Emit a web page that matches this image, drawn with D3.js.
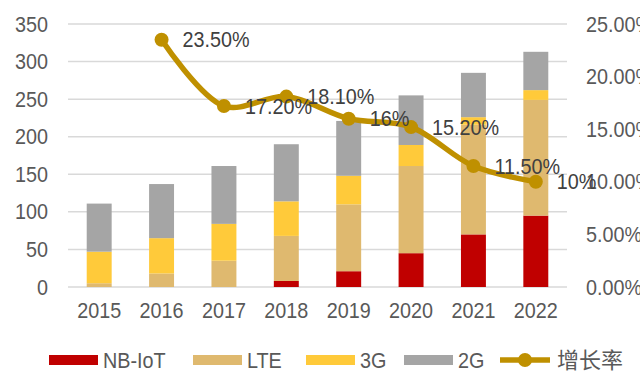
<!DOCTYPE html>
<html><head><meta charset="utf-8">
<script src="https://cdn.jsdelivr.net/npm/d3@7/dist/d3.min.js"></script>
<style>body{margin:0;background:#fff}svg{display:block}</style>
</head><body><svg id="c" width="640" height="378"></svg>
<script>
const years = ["2015","2016","2017","2018","2019","2020","2021","2022"];
const nbiot = [0, 0, 0, 8, 21, 45, 70, 95];
const lte   = [5, 18, 35, 60, 89, 116, 146, 154];
const g3    = [42, 47, 49, 46, 38, 28, 10, 13];
const g2    = [64, 72, 77, 76, 73, 66, 59, 51];
const growthYears = ["2016","2017","2018","2019","2020","2021","2022"];
const growth = [23.5, 17.2, 18.1, 16, 15.2, 11.5, 10];
const growthLabels = ["23.50%","17.20%","18.10%","16%","15.20%","11.50%","10%"];
const leftTicks = [0,50,100,150,200,250,300,350];
const rightTicks = [0,5,10,15,20,25];
const seriesNames = ["NB-IoT","LTE","3G","2G"];
const colors = ["#C00000","#DFB96F","#FFCA3A","#A5A5A5"];
const lineColor = "#BF9000";

const svg = d3.select("#c");
const font = "'Liberation Sans', Arial, sans-serif";
const FS = 22, SX = 0.9;
function squeeze(sel) {
  sel.each(function() {
    const t = d3.select(this);
    const tx = +(t.attr("x") || 0);
    t.attr("transform", `translate(${tx},0) scale(${SX},1) translate(${-tx},0)`);
  });
}
const x = d3.scaleBand().domain(years).range([68, 567]).paddingInner(0.6).paddingOuter(0.3);
const y = d3.scaleLinear().domain([0, 350]).range([287, 24]);
const y2 = d3.scaleLinear().domain([0, 25]).range([287, 24]);

// gridlines
svg.append("g").selectAll("line").data(leftTicks).join("line")
  .attr("x1", 68).attr("x2", 567)
  .attr("y1", d => y(d)).attr("y2", d => y(d))
  .attr("stroke", "#D9D9D9").attr("stroke-width", 1.5);

// left axis
const la = svg.append("g").attr("transform", "translate(68,0)")
  .call(d3.axisLeft(y).tickValues(leftTicks).tickSize(0).tickPadding(20).tickFormat(d3.format("d")));
la.select(".domain").remove();
la.selectAll("text").attr("font-family", font).attr("font-size", FS).attr("fill", "#595959").call(squeeze);

// right axis
const ra = svg.append("g").attr("transform", "translate(567,0)")
  .call(d3.axisRight(y2).tickValues(rightTicks).tickSize(0).tickPadding(19).tickFormat(d => d.toFixed(2) + "%"));
ra.select(".domain").remove();
ra.selectAll("text").attr("font-family", font).attr("font-size", FS).attr("fill", "#595959").call(squeeze);

// bottom axis
const ba = svg.append("g").attr("transform", "translate(0,287)")
  .call(d3.axisBottom(x).tickSize(0).tickPadding(15));
ba.select(".domain").remove();
ba.selectAll("text").attr("font-family", font).attr("font-size", FS).attr("fill", "#595959").call(squeeze);

// stacked bars
const table = years.map((yr, i) => ({year: yr, "NB-IoT": nbiot[i], "LTE": lte[i], "3G": g3[i], "2G": g2[i]}));
const stacked = d3.stack().keys(seriesNames)(table);
svg.append("g").selectAll("g").data(stacked).join("g")
  .attr("fill", (d, i) => colors[i])
  .selectAll("rect").data(d => d).join("rect")
  .attr("x", d => x(d.data.year)).attr("width", x.bandwidth())
  .attr("y", d => y(d[1])).attr("height", d => y(d[0]) - y(d[1]));

// line
const pts = growthYears.map((yr, i) => ({x: x(yr) + x.bandwidth() / 2, y: y2(growth[i]), label: growthLabels[i]}));
svg.append("path").datum(pts)
  .attr("d", d3.line().x(d => d.x).y(d => d.y).curve(d3.curveCatmullRom.alpha(0.5)))
  .attr("fill", "none").attr("stroke", lineColor).attr("stroke-width", 5.5).attr("stroke-linecap", "round");
svg.append("g").selectAll("circle").data(pts).join("circle")
  .attr("cx", d => d.x).attr("cy", d => d.y).attr("r", 7).attr("fill", lineColor);
svg.append("g").selectAll("text").data(pts).join("text")
  .attr("x", d => d.x + 21).attr("y", d => d.y).attr("dy", "0.35em")
  .attr("font-family", font).attr("font-size", FS).attr("fill", "#404040")
  .text(d => d.label).call(squeeze);

// legend
const legend = svg.append("g");
const legItems = [
  {name: "NB-IoT", color: colors[0], x: 49},
  {name: "LTE", color: colors[1], x: 193},
  {name: "3G", color: colors[2], x: 306},
  {name: "2G", color: colors[3], x: 404}
];
legItems.forEach(it => {
  legend.append("rect").attr("x", it.x).attr("y", 355).attr("width", 49).attr("height", 10).attr("fill", it.color);
  legend.append("text").attr("x", it.x + 54).attr("y", 360).attr("dy", "0.35em")
    .attr("font-family", font).attr("font-size", FS).attr("fill", "#595959").text(it.name).call(squeeze);
});
legend.append("line").attr("x1", 500).attr("x2", 550).attr("y1", 360).attr("y2", 360)
  .attr("stroke", lineColor).attr("stroke-width", 5.5);
legend.append("circle").attr("cx", 525).attr("cy", 360).attr("r", 7).attr("fill", lineColor);
legend.append("text").attr("x", 557).attr("y", 360).attr("dy", "0.35em")
  .attr("font-family", "'Noto Sans CJK SC', sans-serif").attr("font-size", 22).attr("fill", "#595959").text("增长率");
</script></body></html>
